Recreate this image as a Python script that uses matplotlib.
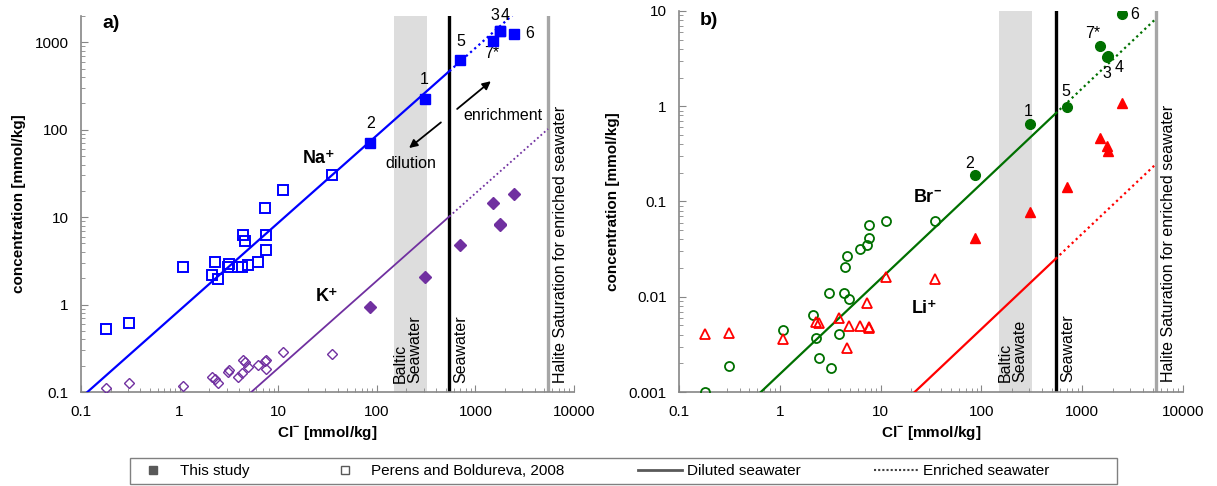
import numpy as np
import matplotlib.pyplot as plt
from matplotlib.ticker import FuncFormatter, NullFormatter, LogLocator
from matplotlib.lines import Line2D
from matplotlib.patches import Rectangle

plt.rcParams['font.family'] = ['Liberation Sans', 'DejaVu Sans']
plt.rcParams['font.size'] = 11
plt.rcParams['mathtext.fontset'] = 'custom'
plt.rcParams['mathtext.rm'] = 'Liberation Sans'
plt.rcParams['mathtext.bf'] = 'Liberation Sans:bold'

# this study, samples 1..7*
sample_ids = ['1', '2', '3', '4', '5', '6', '7*']
cl_study = [305, 86, 1760, 1790, 705, 2480, 1500]
na_study = [227, 71, 1330, 1345, 620, 1260, 1030]
k_study = [2.05, 0.95, 8.2, 8.3, 4.77, 18.4, 14.5]
br_study = [0.65, 0.19, 3.3, 3.35, 0.98, 9.2, 4.26]
li_study = [0.0785, 0.041, 0.385, 0.342, 0.141, 1.07, 0.468]

# Perens and Boldureva, 2008
cl_lit = [0.18, 0.31, 1.08, 2.14, 2.28, 2.44, 3.1, 3.2, 3.9, 4.3,
          4.4, 4.6, 4.9, 6.2, 7.3, 7.6, 7.6, 11.2, 35]
na_lit = [0.52, 0.61, 2.66, 2.2, 3.1, 1.98, 2.66, 2.9, 2.7, 2.66,
          6.3, 5.4, 2.8, 3.1, 12.6, 6.3, 4.2, 20.5, 30.3]
k_lit = [0.11, 0.127, 0.117, 0.149, 0.141, 0.127, 0.17, 0.179, 0.149, 0.165,
         0.233, 0.22, 0.194, 0.204, 0.228, 0.23, 0.183, 0.29, 0.274]
br_lit = [0.001, 0.00187, 0.00447, 0.0064, 0.00367, 0.00227, 0.0109, 0.00178, 0.00405, 0.0109,
          0.0204, 0.0265, 0.0094, 0.0316, 0.035, 0.041, 0.056, 0.062, 0.063]
li_lit = [0.00405, 0.00415, 0.00359, np.nan, 0.0054, 0.0053, np.nan, np.nan, 0.006, np.nan,
          np.nan, 0.0029, 0.0049, 0.0049, 0.0087, 0.0048, 0.0047, 0.016, 0.0152]

# seawater reference values [mmol/kg]
cl_sw = 545
na_sw = 469
k_sw = 10.2
br_sw = 0.84
li_sw = 0.025
cl_halite = 5450
baltic = (150, 320)

c_na, c_k, c_br, c_li = '#0000FF', '#7030A0', '#007000', '#FF0000'

fig = plt.figure(figsize=(12.17, 4.86), dpi=100)
ax1 = fig.add_axes([81/1217, 1-392/486, 493/1217, 376/486])
ax2 = fig.add_axes([679/1217, 1-392/486, 504/1217, 381/486])


def style(ax, ylim):
    ax.set_xscale('log')
    ax.set_yscale('log')
    ax.set_xlim(0.1, 10000)
    ax.set_ylim(*ylim)
    for s in ['top', 'right']:
        ax.spines[s].set_visible(False)
    for s in ['left', 'bottom']:
        ax.spines[s].set_color('#868686')
        ax.spines[s].set_linewidth(1.2)
    fmt = FuncFormatter(lambda v, p: '%g' % v)
    ax.xaxis.set_major_formatter(fmt)
    ax.yaxis.set_major_formatter(fmt)
    ax.xaxis.set_minor_formatter(NullFormatter())
    ax.yaxis.set_minor_formatter(NullFormatter())
    ax.xaxis.set_minor_locator(LogLocator(subs=np.arange(2, 10)))
    ax.yaxis.set_minor_locator(LogLocator(subs=np.arange(2, 10)))
    ax.tick_params(which='major', direction='in', length=5, color='#868686', labelsize=11)
    ax.tick_params(which='minor', direction='in', length=3, color='#868686')
    ax.tick_params(axis='x', which='major', pad=9)
    ax.tick_params(axis='y', which='major', pad=9)
    ax.set_xlabel(r'Cl$^{\mathbf{-}}$ [mmol/kg]', fontweight='bold', fontsize=11, labelpad=4)
    ax.set_ylabel('concentration [mmol/kg]', fontweight='bold', fontsize=11, labelpad=6)
    # reference lines and band
    ax.axvspan(baltic[0], baltic[1], color='#DDDDDD', lw=0, zorder=0)
    ax.axvline(cl_sw, color='black', lw=2.4, zorder=2)
    ax.axvline(cl_halite, color='#A6A6A6', lw=2.4, zorder=2)
    tr = ax.get_xaxis_transform()
    ax.text(np.sqrt(baltic[0]*baltic[1]) * 0.93, 0.025, 'Baltic\n' + ('Seawater' if ax is ax1 else 'Seawate'),
            transform=tr, rotation=90, ha='center', va='bottom', ma='left', fontsize=11.5, linespacing=1.0)
    ax.text(cl_sw * 1.1, 0.025, 'Seawater', transform=tr, rotation=90, ha='left', va='bottom', fontsize=11.5)
    ax.text(cl_halite * 1.12, 0.025, 'Halite Saturation for enriched seawater', transform=tr,
            rotation=90, ha='left', va='bottom', fontsize=11.5)


def mixing(ax, ratio, color, lw):
    x_dil = np.array([0.01, cl_sw])
    x_enr = np.array([cl_sw, cl_halite])
    ax.plot(x_dil, ratio * x_dil, color=color, lw=lw, zorder=3)
    ax.plot(x_enr, ratio * x_enr, color=color, lw=lw, ls=(0, (1, 1.5)), zorder=3)


style(ax1, (0.1, 2000))
style(ax2, (0.001, 10))

# ---- panel a
mixing(ax1, na_sw / cl_sw, c_na, 1.6)
mixing(ax1, k_sw / cl_sw, c_k, 1.3)
ax1.plot(cl_lit, na_lit, 's', mfc='none', mec=c_na, mew=1.4, ms=7, zorder=4)
ax1.plot(cl_lit, k_lit, 'D', mfc='none', mec=c_k, mew=1.0, ms=5.5, zorder=4)
ax1.plot(cl_study, na_study, 's', color=c_na, ms=6.5, zorder=5)
ax1.plot(cl_study, k_study, 'D', color=c_k, ms=6, zorder=5)

offs_a = {'1': (0, 14), '2': (0, 14), '3': (-3.5, 11.5), '4': (3.5, 11.5),
          '5': (0, 14), '6': (11, 0), '7*': (-1, -9)}
for sid, x, y in zip(sample_ids, cl_study, na_study):
    ax1.annotate(sid, (x, y), xytext=offs_a[sid], textcoords='offset points',
                 ha='center', va='center', fontsize=11.5)

ax1.text(26, 47, 'Na⁺', fontweight='bold', fontsize=13, ha='center', va='center')
ax1.text(31, 1.24, 'K⁺', fontweight='bold', fontsize=13, ha='center', va='center')
ax1.annotate('', xy=(1507, 376), xytext=(621, 165),
             arrowprops=dict(arrowstyle='-|>', color='black', lw=1.3, mutation_scale=12))
ax1.annotate('', xy=(202, 59), xytext=(470, 127),
             arrowprops=dict(arrowstyle='-|>', color='black', lw=1.3, mutation_scale=12))
ax1.text(1900, 145, 'enrichment', ha='center', va='center', fontsize=11.5)
ax1.text(222, 40.6, 'dilution', ha='center', va='center', fontsize=11.5)
ax1.text(0.043, 0.979, 'a)', transform=ax1.transAxes, fontweight='bold', fontsize=14,
         ha='left', va='center')

# ---- panel b
mixing(ax2, br_sw / cl_sw, c_br, 1.6)
mixing(ax2, li_sw / cl_sw, c_li, 1.6)
ax2.plot(cl_lit, br_lit, 'o', mfc='none', mec=c_br, mew=1.3, ms=6.5, zorder=4)
ax2.plot(cl_lit, li_lit, '^', mfc='none', mec=c_li, mew=1.3, ms=7, zorder=4)
ax2.plot(cl_study, br_study, 'o', color=c_br, ms=7, zorder=5)
ax2.plot(cl_study, li_study, '^', color=c_li, ms=7, zorder=5)

offs_b = {'1': (-1.5, 9), '2': (-3.5, 8.5), '3': (0, -12), '4': (8, -8),
          '5': (-0.7, 11), '6': (9, 0), '7*': (-5, 9)}
for sid, x, y in zip(sample_ids, cl_study, br_study):
    ax2.annotate(sid, (x, y), xytext=offs_b[sid], textcoords='offset points',
                 ha='center', va='center', fontsize=11.5)

ax2.text(29, 0.109, r'Br$^{\mathbf{-}}$', fontweight='bold', fontsize=13, ha='center', va='center')
ax2.text(27, 0.0076, 'Li⁺', fontweight='bold', fontsize=13, ha='center', va='center')
ax2.text(0.042, 0.976, 'b)', transform=ax2.transAxes, fontweight='bold', fontsize=14,
         ha='left', va='center')

# ---- legend (frame drawn separately so it can be wider than the entries)
handles = [
    Line2D([], [], marker='s', color='#595959', ls='none', ms=6),
    Line2D([], [], marker='s', mfc='none', mec='#595959', ls='none', ms=6),
    Line2D([], [], color='#595959', lw=2),
    Line2D([], [], color='#404040', lw=1.5, ls=(0, (1, 1))),
]
labels = ['This study', 'Perens and Boldureva, 2008', 'Diluted seawater', 'Enriched seawater']
fig.legend(handles, labels, ncol=4, loc='center left', frameon=False,
           bbox_to_anchor=(117/1217, 1-471/486), fontsize=11,
           handlelength=2.9, handletextpad=0.3, columnspacing=4.8)
fig.patches.append(Rectangle((130/1217, 1-484/486), 987/1217, 26/486, transform=fig.transFigure,
                             fill=False, edgecolor='#808080', lw=1.0))

fig.savefig('out.png', dpi=100)
